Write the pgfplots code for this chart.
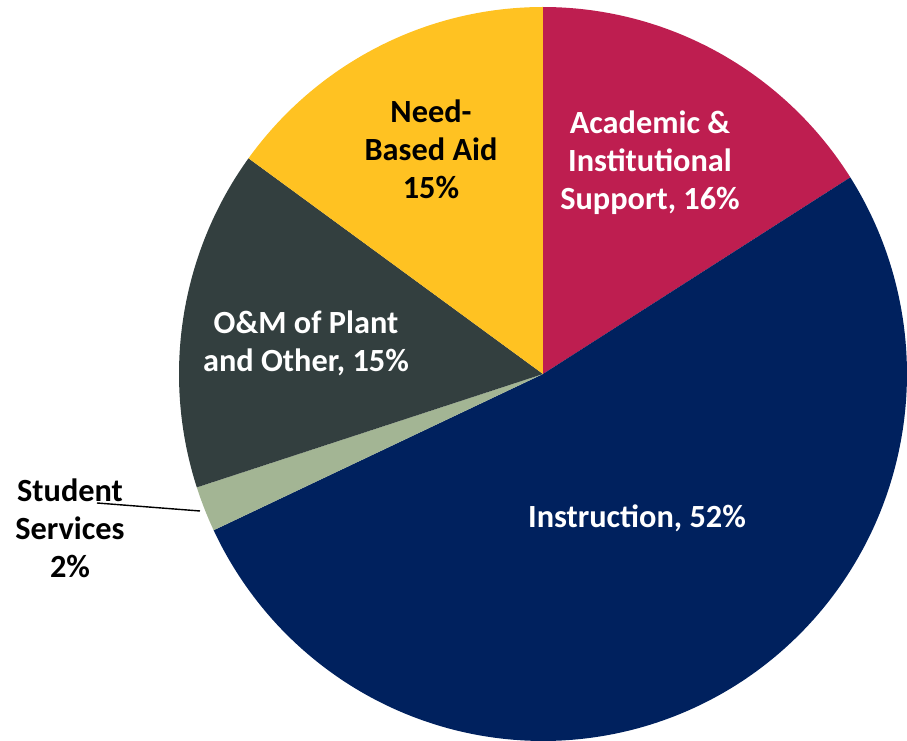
\documentclass[border=0pt]{standalone}
\usepackage{fontspec}
\setmainfont{Carlito}
\usepackage{pgfplots}
\pgfplotsset{compat=1.18}
\definecolor{cAcad}{HTML}{BE1E50}
\definecolor{cInst}{HTML}{00215E}
\definecolor{cStud}{HTML}{A3B594}
\definecolor{cOM}{HTML}{333F3F}
\definecolor{cNeed}{HTML}{FFC222}
\begin{document}
\begin{tikzpicture}
\begin{axis}[
  scale only axis, width=9.07cm, height=7.41cm,
  xmin=0, xmax=907, ymin=0, ymax=741,
  hide axis, clip=true,
]
% shares (percent): Academic 16, Instruction 52, Student 2, O&M 15, Need 15
% slices run clockwise from 90 deg, 3.6 deg per percent
\addplot[draw=none, fill=cAcad, domain=32.4:90, samples=80, variable=\t]
  ({543+364*cos(t)},{367+367*sin(t)}) -- (axis cs:543,367) -- cycle;
\addplot[draw=none, fill=cInst, domain=-154.8:32.4, samples=200, variable=\t]
  ({543+364*cos(t)},{367+367*sin(t)}) -- (axis cs:543,367) -- cycle;
\addplot[draw=none, fill=cStud, domain=-162:-154.8, samples=20, variable=\t]
  ({543+364*cos(t)},{367+367*sin(t)}) -- (axis cs:543,367) -- cycle;
\addplot[draw=none, fill=cOM, domain=-216:-162, samples=80, variable=\t]
  ({543+364*cos(t)},{367+367*sin(t)}) -- (axis cs:543,367) -- cycle;
\addplot[draw=none, fill=cNeed, domain=-270:-216, samples=80, variable=\t]
  ({543+364*cos(t)},{367+367*sin(t)}) -- (axis cs:543,367) -- cycle;
\addplot[draw=none] coordinates {(0,0) (907,741)};
\addplot[black, line width=0.4pt] coordinates {(97,238) (200,230)};
\tikzset{lbl/.style={font=\fontsize{9.2}{10.8}\selectfont\bfseries, align=center, inner sep=0pt}}
\node[lbl, text=white] at (axis cs:650,578) {Academic \&\\Institutional\\Support, 16\%};
\node[lbl, text=black] at (axis cs:431,592) {Need-\\Based Aid\\15\%};
\node[lbl, text=white] at (axis cs:306,398) {O\&M of Plant\\and Other, 15\%};
\node[lbl, text=white] at (axis cs:637,223) {Instruction, 52\%};
\node[lbl, text=black] at (axis cs:70,213) {Student\\Services\\2\%};
\end{axis}
\end{tikzpicture}
\end{document}
